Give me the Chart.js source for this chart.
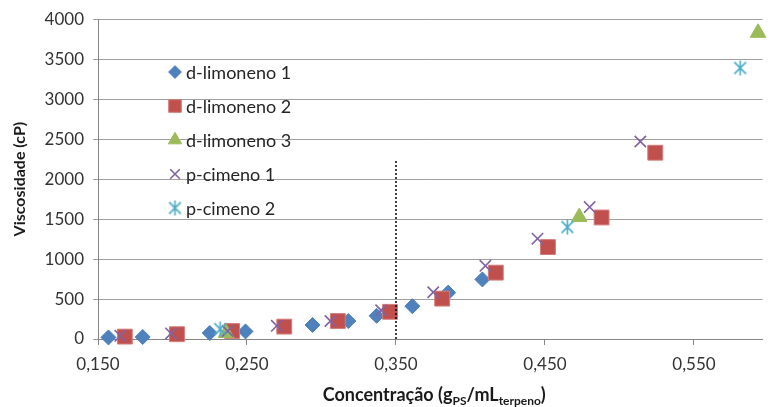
<!DOCTYPE html>
<html>
<head>
<meta charset="utf-8">
<script src="https://cdn.jsdelivr.net/npm/chart.js@4.4.1/dist/chart.umd.min.js"></script>
<style>
  html, body { margin: 0; padding: 0; background: #fff; }
  #wrap { width: 774px; height: 407px; }
</style>
</head>
<body>
<div id="wrap"><canvas id="myChart"></canvas></div>
<script>
// values
const seriesNames = ['d-limoneno 1', 'd-limoneno 2', 'd-limoneno 3', 'p-cimeno 1', 'p-cimeno 2'];

const limoneno1X = [0.157, 0.180, 0.225, 0.249, 0.294, 0.318, 0.337, 0.361, 0.385, 0.408];
const limoneno1Y = [20, 25, 75, 95, 175, 225, 290, 410, 580, 745];

const limoneno2X = [0.168, 0.203, 0.240, 0.275, 0.311, 0.346, 0.381, 0.417, 0.452, 0.488, 0.524];
const limoneno2Y = [30, 60, 100, 155, 225, 340, 505, 830, 1150, 1520, 2330];

const limoneno3X = [0.236, 0.473, 0.593];
const limoneno3Y = [75, 1525, 3830];

const cimeno1X = [0.165, 0.199, 0.237, 0.270, 0.306, 0.340, 0.375, 0.410, 0.445, 0.480, 0.514];
const cimeno1Y = [40, 70, 100, 165, 225, 360, 585, 915, 1255, 1650, 2470];

const cimeno2X = [0.232, 0.465, 0.581];
const cimeno2Y = [125, 1400, 3390];

const xTicks = [0.150, 0.250, 0.350, 0.450, 0.550];
const refLineX = 0.35;
const refLineY = [0, 2250];

const FONT = 'Lato, "Open Sans", sans-serif';

function pts(xs, ys) {
  return xs.map((x, i) => ({ x: x, y: ys[i] }));
}

// six-armed asterisk like the Excel marker
function asterisk(size, color, lw) {
  const c = document.createElement('canvas');
  c.width = c.height = size;
  const g = c.getContext('2d');
  g.strokeStyle = color;
  g.lineWidth = lw;
  const m = size / 2, r = size / 2 - 1, d = r * 0.78;
  g.beginPath();
  g.moveTo(m, m - r); g.lineTo(m, m + r);
  g.moveTo(m - d, m - d); g.lineTo(m + d, m + d);
  g.moveTo(m - d, m + d); g.lineTo(m + d, m - d);
  g.stroke();
  return c;
}

const starImg = asterisk(17, '#4BACC6', 1.6);

const ctx = document.getElementById('myChart').getContext('2d');

const insideLegend = {
  id: 'insideLegend',
  afterDraw(chart) {
    const c = chart.ctx;
    c.save();
    chart.data.datasets.forEach((ds, i) => {
      if (!ds.label) return;
      const y = 72 + i * 34;
      c.fillStyle = ds.backgroundColor;
      c.strokeStyle = ds.borderColor;
      c.lineWidth = ds.borderWidth;
      Chart.helpers.drawPoint(c, {
        pointStyle: ds.pointStyle,
        radius: ds.pointRadius * 0.85,
        borderWidth: ds.borderWidth,
        rotation: 0
      }, 175, y);
      c.fillStyle = '#262626';
      c.font = '18px ' + FONT;
      c.textBaseline = 'middle';
      c.textAlign = 'left';
      c.fillText(ds.label, 186, y + 1);
    });
    c.restore();
  }
};

const axisTitles = {
  id: 'axisTitles',
  afterDraw(chart) {
    const c = chart.ctx;
    const area = chart.chartArea;
    c.save();
    c.fillStyle = '#1a1a1a';
    // y title
    c.font = 'bold 16px ' + FONT;
    c.translate(20, (area.top + area.bottom) / 2);
    c.rotate(-Math.PI / 2);
    c.textAlign = 'center';
    c.textBaseline = 'middle';
    c.fillText('Viscosidade (cP)', 0, 0);
    c.restore();

    // x title with subscripts
    c.save();
    c.fillStyle = '#1a1a1a';
    const big = 'bold 18px ' + FONT, small = 'bold 12px ' + FONT;
    const parts = [
      ['Concentração (g', big, 0], ['PS', small, 4],
      ['/mL', big, 0], ['terpeno', small, 4], [')', big, 0]
    ];
    let total = 0;
    parts.forEach(p => { c.font = p[1]; total += c.measureText(p[0]).width; });
    let x = (area.left + area.right) / 2 + 4 - total / 2;
    const base = 401;
    c.textBaseline = 'alphabetic';
    c.textAlign = 'left';
    parts.forEach(p => {
      c.font = p[1];
      c.fillText(p[0], x, base + p[2]);
      x += c.measureText(p[0]).width;
    });
    c.restore();
  }
};

const myChart = new Chart(ctx, {
  type: 'scatter',
  data: {
    datasets: [{
      label: seriesNames[0],
      data: pts(limoneno1X, limoneno1Y),
      pointStyle: 'rectRot',
      pointRadius: 7.5,
      backgroundColor: '#4F81BD',
      borderColor: '#4A7EBB',
      borderWidth: 1,
      order: 10
    }, {
      label: seriesNames[1],
      data: pts(limoneno2X, limoneno2Y),
      pointStyle: 'rect',
      pointRadius: 10.5,
      backgroundColor: '#C0504D',
      borderColor: '#D47C7A',
      borderWidth: 1,
      order: 9
    }, {
      label: seriesNames[2],
      data: pts(limoneno3X, limoneno3Y),
      pointStyle: 'triangle',
      pointRadius: 9,
      backgroundColor: '#9BBB59',
      borderColor: '#9BBB59',
      borderWidth: 1,
      order: 8
    }, {
      label: seriesNames[3],
      data: pts(cimeno1X, cimeno1Y),
      pointStyle: 'crossRot',
      pointRadius: 8,
      backgroundColor: '#8064A2',
      borderColor: '#8064A2',
      borderWidth: 1.6,
      order: 7
    }, {
      label: seriesNames[4],
      data: pts(cimeno2X, cimeno2Y),
      pointStyle: starImg,
      pointRadius: 8,
      backgroundColor: '#4BACC6',
      borderColor: '#4BACC6',
      borderWidth: 1.6,
      order: 6
    }, {
      type: 'line',
      data: [{ x: refLineX, y: refLineY[0] }, { x: refLineX, y: refLineY[1] }],
      borderColor: '#000',
      borderWidth: 1.5,
      borderDash: [2, 2],
      pointRadius: 0,
      order: -1
    }].map(d => Object.assign({ clip: false, pointHoverRadius: d.pointRadius }, d))
  },
  options: {
    responsive: true,
    maintainAspectRatio: false,
    animation: false,
    events: [],
    layout: { padding: { top: 19, right: 0, bottom: 0, left: 0 } },
    plugins: {
      legend: { display: false },
      tooltip: { enabled: false }
    },
    scales: {
      x: {
        type: 'linear',
        min: 0.15,
        max: 0.596,
        afterBuildTicks: s => { s.ticks = xTicks.map(v => ({ value: v })); },
        afterFit: s => { s.height = 68; s.paddingLeft = 0; s.paddingRight = 0; },
        ticks: {
          callback: v => v.toFixed(3).replace('.', ','),
          font: { family: FONT, size: 17 },
          color: '#333',
          padding: 9,
          maxRotation: 0,
          autoSkip: false
        },
        grid: { drawOnChartArea: false, drawTicks: true, tickLength: 6, color: '#868686' },
        border: { color: '#868686', width: 1 }
      },
      y: {
        min: 0,
        max: 4000,
        afterFit: s => { s.width = 98; },
        ticks: {
          stepSize: 500,
          callback: v => String(v),
          font: { family: FONT, size: 17 },
          color: '#333',
          padding: 9
        },
        grid: { color: '#a0a0a0', lineWidth: 1, tickLength: 5 },
        border: { color: '#868686', width: 1 }
      }
    }
  },
  plugins: [insideLegend, axisTitles]
});
</script>
</body>
</html>
